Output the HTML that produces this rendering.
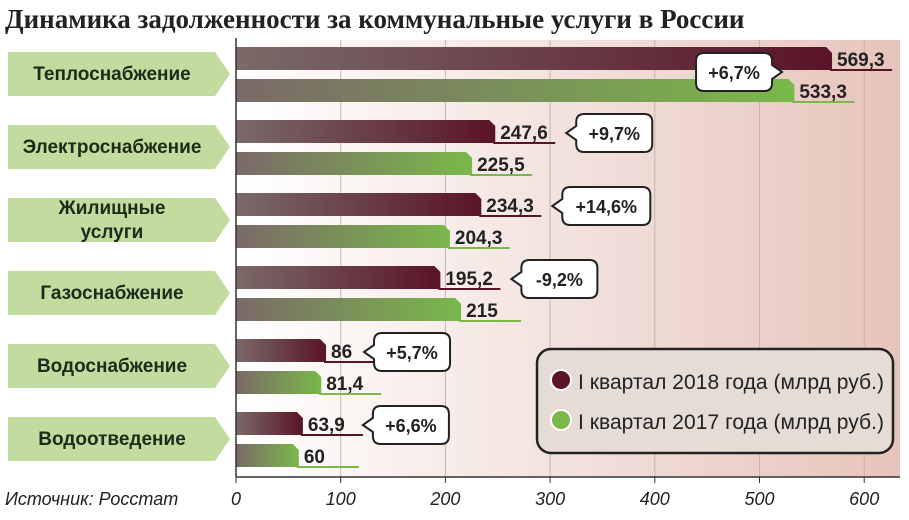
<!DOCTYPE html>
<html><head><meta charset="utf-8">
<style>
body{margin:0;width:909px;height:520px;overflow:hidden;background:#fff;font-family:"Liberation Sans",sans-serif;}
svg{display:block}
</style></head><body>
<svg id="chart" width="909" height="520">
<defs>
<linearGradient id="bg" x1="0" x2="1" y1="0" y2="0"><stop offset="0" stop-color="#ffffff"/><stop offset="1" stop-color="#e6c4bb"/></linearGradient>
<linearGradient id="gd" x1="0" x2="1"><stop offset="0" stop-color="#7a6a68"/><stop offset="1" stop-color="#5a1428"/></linearGradient>
<linearGradient id="gg" x1="0" x2="1"><stop offset="0" stop-color="#7a6a68"/><stop offset="1" stop-color="#7ab84a"/></linearGradient>
</defs>
<text x="5" y="28" font-family="Liberation Serif,serif" font-weight="bold" font-size="27" fill="#222">Динамика задолженности за коммунальные услуги в России</text>
<rect x="236" y="40" width="664" height="437" fill="url(#bg)"/>
<g id="grid"></g>
<g id="bars"></g>
<line x1="236" y1="38" x2="236" y2="477" stroke="#333" stroke-width="1.5"/>
<line x1="236" y1="477" x2="900" y2="477" stroke="#333" stroke-width="1.5"/>
<g id="labels"></g>
<g>
<rect x="537" y="349" width="356" height="104" rx="14" fill="#e6dcd6" stroke="#222" stroke-width="2.5"/>
<circle cx="561" cy="380" r="10" fill="#5a1428" stroke="#fff" stroke-width="2"/>
<text x="578" y="389" font-family="Liberation Sans Narrow,Liberation Sans,sans-serif" font-size="21" fill="#222" textLength="306">I квартал 2018 года (млрд руб.)</text>
<circle cx="561" cy="420" r="10" fill="#7ab84a" stroke="#fff" stroke-width="2"/>
<text x="578" y="429" font-family="Liberation Sans Narrow,Liberation Sans,sans-serif" font-size="21" fill="#222" textLength="306">I квартал 2017 года (млрд руб.)</text>
</g>
<text x="5" y="505" font-style="italic" font-size="18" fill="#222">Источник: Росстат</text>
</svg>
<script>
const categories=[["Теплоснабжение"],["Электроснабжение"],["Жилищные","услуги"],["Газоснабжение"],["Водоснабжение"],["Водоотведение"]];
const values2018=[569.3,247.6,234.3,195.2,86,63.9];
const values2017=[533.3,225.5,204.3,215,81.4,60];
const changeLabels=["+6,7%","+9,7%","+14,6%","-9,2%","+5,7%","+6,6%"];
const tickValues=[0,100,200,300,400,500,600];
const NS="http://www.w3.org/2000/svg";
const x0=236,pxPer=1.047;
const X=v=>x0+v*pxPer;
const rowY=i=>47+i*73;
const fmt=v=>String(v).replace('.',',');
function mk(t,a,p){const e=document.createElementNS(NS,t);for(const k in a)e.setAttribute(k,a[k]);p.appendChild(e);return e;}
const grid=document.getElementById('grid'),bars=document.getElementById('bars'),labels=document.getElementById('labels');
tickValues.forEach(v=>{
 if(v>0){const l=mk('line',{x1:X(v),x2:X(v),y1:40,y2:477,stroke:'#c8b4b0','stroke-width':1},grid);
 
 }
 const tk=mk('line',{x1:X(v),x2:X(v),y1:477,y2:483,stroke:'#333'},grid);
 
 
 const t=mk('text',{x:X(v),y:505,'text-anchor':'middle','font-style':'italic','font-size':18,fill:'#222'},labels);
 t.textContent=v;
 
 
});
function bar(y,v,fill,name,lineCol){
 const xe=X(v);
 const p=mk('path',{d:`M${x0} ${y}H${xe-6}L${xe} ${y+6}V${y+23}H${x0}Z`,fill:fill},bars);
 
 
 const u=mk('line',{x1:xe-2,x2:xe+60,y1:y+23,y2:y+23,stroke:lineCol,'stroke-width':2},bars);
 
 
 const t=mk('text',{x:xe+5,y:y+19,'font-weight':'bold','font-size':19,fill:'#222'},labels);
 t.textContent=fmt(v);
 
 
 return xe;
}
categories.forEach((c,i)=>{
 const y=rowY(i);
 const lb=mk('path',{d:`M8 ${y+5}H215L230 ${y+27}L215 ${y+49}H8Z`,fill:'#c2dca0'},labels);
 
 
 c.forEach((s,k)=>{
  const t=mk('text',{x:112,y:y+33+(k-(c.length-1)/2)*24,'text-anchor':'middle','font-weight':'bold','font-size':19,fill:'#1e2a1a'},labels);
  t.textContent=s;
  
  
 });
 const e1=bar(y,values2018[i],'url(#gd)','bar-2018','#5a1428');
 bar(y+32,values2017[i],'url(#gg)','bar-2017','#7ab84a');
 const g=mk('g',{},labels);
 
 
 const w=changeLabels[i].length*12+16,h=38;
 let bx,by=y+6,d;
 if(i===0){bx=e1-136;by=y+6;
  d=`M${bx+8} ${by}H${bx+w-8}Q${bx+w} ${by} ${bx+w} ${by+8}V${by+12}L${bx+w+10} ${by+19}L${bx+w} ${by+26}V${by+h-8}Q${bx+w} ${by+h} ${bx+w-8} ${by+h}H${bx+8}Q${bx} ${by+h} ${bx} ${by+h-8}V${by+8}Q${bx} ${by} ${bx+8} ${by}Z`;}
 else{bx=e1+fmt(values2018[i]).length*11+26;by=y-6;
  d=`M${bx+8} ${by}H${bx+w-8}Q${bx+w} ${by} ${bx+w} ${by+8}V${by+h-8}Q${bx+w} ${by+h} ${bx+w-8} ${by+h}H${bx+8}Q${bx} ${by+h} ${bx} ${by+h-8}V${by+26}L${bx-10} ${by+19}L${bx} ${by+12}V${by+8}Q${bx} ${by} ${bx+8} ${by}Z`;}
 mk('path',{d:d,fill:'#fff',stroke:'#222','stroke-width':2},g);
 const t=mk('text',{x:bx+w/2,y:by+26,'text-anchor':'middle','font-weight':'bold','font-size':18,fill:'#222'},g);
 t.textContent=changeLabels[i];
});
</script>
</body></html>
